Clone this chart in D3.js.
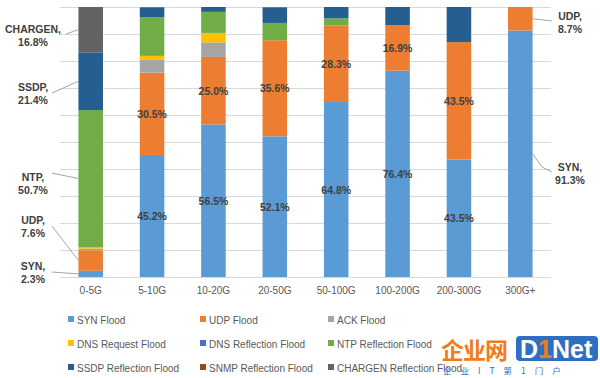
<!DOCTYPE html>
<html><head><meta charset="utf-8">
<script src="https://cdn.jsdelivr.net/npm/d3@7"></script>
<style>body{margin:0;background:#fff;}svg{display:block;font-family:"Liberation Sans",Arial,sans-serif;}</style>
</head><body>
<svg id="c" width="600" height="378"></svg>
<script>
const categories = ["0-5G","5-10G","10-20G","20-50G","50-100G","100-200G","200-300G","300G+"];
const seriesNames = ["SYN Flood","UDP Flood","ACK Flood","DNS Request Flood","DNS Reflection Flood","NTP Reflection Flood","SSDP Reflection Flood","SNMP Reflection Flood","CHARGEN Reflection Flood"];
const seriesColors = ["#5B9BD5","#ED7D31","#A5A5A5","#FFC000","#4472C4","#70AD47","#255E91","#9E480E","#636363"];
const synValues     = [2.3, 45.2, 56.5, 52.1, 64.8, 76.4, 43.5, 91.3];
const udpValues     = [7.6, 30.5, 25.0, 35.6, 28.3, 16.9, 43.5, 8.7];
const ackValues     = [0.6, 4.7, 5.4, 0, 0, 0, 0, 0];
const dnsReqValues  = [0.6, 1.5, 3.5, 0, 0, 0, 0, 0];
const dnsRefValues  = [0, 0, 0, 0, 0, 0, 0, 0];
const ntpValues     = [50.7, 14.3, 7.8, 6.4, 2.7, 0, 0, 0];
const ssdpValues    = [21.4, 3.7, 1.8, 5.8, 4.2, 6.7, 13.0, 0];
const snmpValues    = [0, 0, 0, 0, 0, 0, 0, 0];
const chargenValues = [16.8, 0, 0, 0, 0, 0, 0, 0];
const yTicks = [0,10,20,30,40,50,60,70,80,90,100];
// inside labels: series index -> categories shown
const labelledSeries = [0, 1];
const labelledCategories = ["5-10G","10-20G","20-50G","50-100G","100-200G","200-300G"];
// callouts: [category, series index, name, value]
const callouts = [
  ["0-5G", 8, "CHARGEN,", "16.8%"],
  ["0-5G", 6, "SSDP,", "21.4%"],
  ["0-5G", 5, "NTP,", "50.7%"],
  ["0-5G", 1, "UDP,", "7.6%"],
  ["0-5G", 0, "SYN,", "2.3%"],
  ["300G+", 1, "UDP,", "8.7%"],
  ["300G+", 0, "SYN,", "91.3%"]
];

const allValues = [synValues, udpValues, ackValues, dnsReqValues, dnsRefValues, ntpValues, ssdpValues, snmpValues, chargenValues];
const rows = categories.map((c,i)=>{const r={cat:c}; seriesNames.forEach((s,j)=>r[s]=allValues[j][i]); return r;});
const stack = d3.stack().keys(seriesNames)(rows);

const svg = d3.select("#c");
const x = d3.scaleBand().domain(categories).range([60,551]).paddingInner(0.6).paddingOuter(0.3);
const y = d3.scaleLinear().domain([0,100]).range([277,7]);

// gridlines
svg.append("g").selectAll("line").data(yTicks).join("line")
  .attr("x1",60).attr("x2",551).attr("y1",d=>y(d)).attr("y2",d=>y(d))
  .attr("stroke","#D9D9D9").attr("stroke-width",1).attr("shape-rendering","crispEdges");

// bars
svg.append("g").selectAll("g").data(stack).join("g")
  .attr("fill",(d,i)=>seriesColors[i])
  .selectAll("rect").data(d=>d).join("rect")
  .attr("x",d=>x(d.data.cat)).attr("width",x.bandwidth())
  .attr("y",d=>y(d[1])).attr("height",d=>Math.max(0,y(d[0])-y(d[1])));

// inside labels
labelledSeries.forEach(si=>{
  svg.append("g").selectAll("text").data(stack[si].filter(d=>labelledCategories.includes(d.data.cat))).join("text")
    .attr("x",d=>x(d.data.cat)+x.bandwidth()/2)
    .attr("y",d=>y((d[0]+d[1])/2)+4)
    .attr("text-anchor","middle").attr("font-size",10.5).attr("font-weight","bold")
    .attr("fill","#404040")
    .text(d=>(d[1]-d[0]).toFixed(1)+"%");
});

// x axis labels
svg.append("g").attr("transform","translate(0,277)")
  .call(d3.axisBottom(x).tickSize(0).tickPadding(10))
  .call(g=>g.select(".domain").remove())
  .call(g=>g.selectAll("text").attr("font-size",10).attr("fill","#595959").attr("font-family","'Liberation Sans',Arial,sans-serif"));

// callouts
const cg = svg.append("g");
callouts.forEach(([cat,si,name,val])=>{
  const seg = stack[si].find(d=>d.data.cat===cat);
  const cy = y((seg[0]+seg[1])/2);
  const left = categories.indexOf(cat) === 0;
  const bx = left ? x(cat) : x(cat)+x.bandwidth();
  let tx, ty, pts;
  if(left){
    const tyMap = {"CHARGEN,":33,"SSDP,":91,"NTP,":181,"UDP,":224,"SYN,":270};
    ty = tyMap[name]; tx = 33;
    const sx = name==="CHARGEN," ? 66 : 52;
    const sy = name==="CHARGEN," ? ty+1 : (name==="NTP,"? ty-8 : ty+2);
    pts = [[sx,sy],[bx,cy]];
  } else {
    ty = name==="UDP," ? 20 : 171; tx = 570;
    pts = name==="UDP," ? [[bx,cy],[552,ty+1]] : [[bx,cy],[542,ty-4],[552,ty+1]];
  }
  cg.append("path").attr("d",d3.line()(pts)).attr("fill","none").attr("stroke","#A6A6A6").attr("stroke-width",1);
  const t = cg.append("text").attr("text-anchor","middle").attr("font-size",10.5).attr("font-weight","bold").attr("fill","#404040");
  t.append("tspan").attr("x",tx).attr("y",ty).text(name);
  t.append("tspan").attr("x",tx).attr("y",ty+13).text(val);
});

// legend
const legendCols = [68,200,328];
const legendRows = [320,344,368];
const lg = svg.append("g");
seriesNames.forEach((s,i)=>{
  const lx = legendCols[i%3], ly = legendRows[Math.floor(i/3)];
  lg.append("rect").attr("x",lx).attr("y",ly-4).attr("width",6).attr("height",6).attr("fill",seriesColors[i]);
  lg.append("text").attr("x",lx+9).attr("y",ly+3.5).attr("font-size",10).attr("fill","#595959").text(s);
});

// watermark
const wm = svg.append("g");
wm.append("text").attr("x",441).attr("y",359).attr("font-size",23).attr("font-weight","bold")
  .attr("fill","#F07D1A").attr("font-family","'Noto Sans CJK SC',sans-serif").attr("letter-spacing",-1).text("企业网");
wm.append("rect").attr("x",516).attr("y",336).attr("width",82).attr("height",25).attr("rx",4).attr("fill","#2F6FC1");
const dn = wm.append("text").attr("x",520).attr("y",358).attr("font-size",25).attr("font-weight","bold").attr("fill","#fff").attr("font-family","'Liberation Sans',Arial,sans-serif");
dn.append("tspan").text("D");
dn.append("tspan").attr("fill","#F07D1A").text("1");
dn.append("tspan").text("Net");
wm.append("text").attr("x",443).attr("y",374).attr("font-size",8.5).attr("fill","#2F6FC1")
  .attr("font-family","'Noto Sans CJK SC',sans-serif").attr("letter-spacing",9).text("企业IT第1门户");
</script>
</body></html>
